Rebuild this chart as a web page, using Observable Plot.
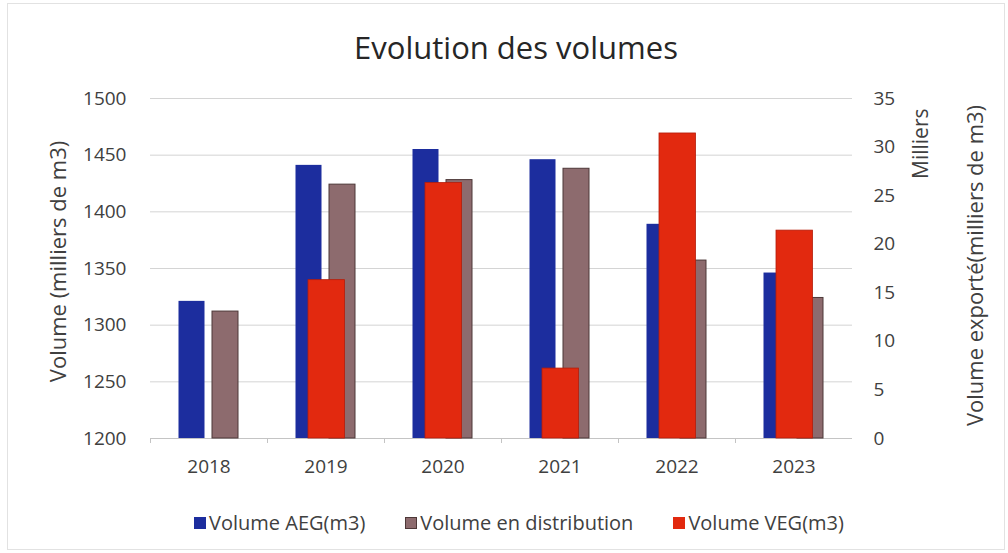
<!DOCTYPE html>
<html>
<head>
<meta charset="utf-8">
<script src="https://cdn.jsdelivr.net/npm/d3@7"></script>
<script src="https://cdn.jsdelivr.net/npm/@observablehq/plot@0.6"></script>
<style>
  html, body { margin: 0; padding: 0; background: #fff; }
  body { width: 1008px; height: 553px; overflow: hidden; font-family: "Open Sans", sans-serif; color: #404040; position: relative; }
  #frame { position: absolute; left: 7px; top: 3px; right: 3px; bottom: 3px; border: 1px solid #e2e2e2; pointer-events: none; }
  #title { height: 80px; box-sizing: border-box; padding-top: 29px; text-align: center; font-size: 31px; line-height: 36px; color: #262626; padding-left: 24px; }
  #chart svg { display: block; }
  #legend { height: 73px; box-sizing: border-box; padding-top: 12px; display: flex; justify-content: center; gap: 40px; font-size: 20px; line-height: 24px; padding-left: 30px; color: #404040; }
  .item { display: flex; align-items: center; gap: 3px; }
  .sw { width: 12px; height: 12px; display: inline-block; box-sizing: border-box; }
</style>
</head>
<body>
<div id="frame"></div>
<div id="title">Evolution des volumes</div>
<div id="chart"></div>
<div id="legend"></div>
<script>
// ---- data ----
const years = ["2018", "2019", "2020", "2021", "2022", "2023"];
const volumeAEG = [1321, 1441, 1455, 1446, 1389, 1346];          // milliers de m3 (left axis)
const volumeDistribution = [1312, 1424, 1428, 1438, 1357, 1324]; // milliers de m3 (left axis)
const volumeVEG = [null, 16.3, 26.3, 7.2, 31.4, 21.4];           // milliers (right axis)
const leftTicks = [1200, 1250, 1300, 1350, 1400, 1450, 1500];
const rightTicks = [0, 5, 10, 15, 20, 25, 30, 35];
const seriesNames = ["Volume AEG(m3)", "Volume en distribution", "Volume VEG(m3)"];
const seriesColors = ["#1c2d9e", "#8d6b6e", "#e2290f"];
const leftTitle = "Volume (milliers de m3)";
const rightTitle = "Volume exporté(milliers de m3)";
const rightUnit = "Milliers";

// ---- layout ----
const W = 1008, H = 400, mL = 150, mR = 156, mT = 18, mB = 42;
const bw = (W - mL - mR) / years.length;

const leftMin = leftTicks[0], leftMax = leftTicks[leftTicks.length - 1];
const rightMax = rightTicks[rightTicks.length - 1];
const toLeft = v => leftMin + v * (leftMax - leftMin) / rightMax;
const fromLeft = y => (y - leftMin) * rightMax / (leftMax - leftMin);

const rows = years.map((year, i) => ({year, aeg: volumeAEG[i], dist: volumeDistribution[i], veg: volumeVEG[i]}));

const chart = Plot.plot({
  width: W, height: H,
  marginLeft: mL, marginRight: mR, marginTop: mT, marginBottom: mB,
  style: {fontFamily: "Open Sans, sans-serif", fontSize: "19px", color: "#404040", background: "white"},
  x: {type: "band", domain: years, padding: 0},
  y: {domain: [leftMin, leftMax]},
  marks: [
    Plot.gridY(leftTicks, {stroke: "#d4d4d4", strokeOpacity: 1, strokeWidth: 1}),
    Plot.ruleY([leftMin], {stroke: "#c4c4c4", strokeWidth: 1}),
    Plot.axisX({tickSize: 5, tickFormat: () => "", dx: -bw / 2, stroke: "#c4c4c4", label: null}),
    Plot.axisX({tickSize: 0, tickPadding: 21, fontSize: 19, fill: "#404040", label: null}),
    Plot.axisY(leftTicks, {anchor: "left", tickSize: 0, tickPadding: 24, fontSize: 19, fill: "#404040",
      tickFormat: d => String(d), label: null}),
    Plot.axisY(rightTicks.map(toLeft), {anchor: "right", tickSize: 0, tickPadding: 21, fontSize: 19, fill: "#404040",
      tickFormat: d => String(Math.round(fromLeft(d))), label: null}),
    Plot.text([leftTitle], {frameAnchor: "left", textAnchor: "middle", dx: -92, dy: -7, rotate: -90, fontSize: 22, fill: "#404040"}),
    Plot.text([rightTitle], {frameAnchor: "right", textAnchor: "middle", dx: 123, dy: -3, rotate: -90, fontSize: 22, fill: "#404040"}),
    Plot.text([rightUnit], {frameAnchor: "top-right", dx: 61, dy: 10, rotate: -90, textAnchor: "end", fontSize: 21, fill: "#404040"}),
    Plot.barY(rows, {x: "year", y1: leftMin, y2: "aeg", fill: seriesColors[0], insetLeft: 28.5, insetRight: 62.5}),
    Plot.barY(rows, {x: "year", y1: leftMin, y2: "dist", fill: seriesColors[1], stroke: "#4d3838", strokeWidth: 1, insetLeft: 62, insetRight: 29}),
    Plot.barY(rows.filter(d => d.veg != null), {x: "year", y1: leftMin, y2: d => toLeft(d.veg), fill: seriesColors[2], stroke: "#b51d0a", strokeWidth: 0.8, insetLeft: 41, insetRight: 39.5})
  ]
});
document.getElementById("chart").appendChild(chart);

// legend
const legend = document.getElementById("legend");
seriesNames.forEach((name, i) => {
  const item = document.createElement("div");
  item.className = "item";
  const sw = document.createElement("span");
  sw.className = "sw";
  sw.style.background = seriesColors[i];
  if (i === 1) sw.style.border = "1px solid #4d3838";
  const t = document.createElement("span");
  t.textContent = name;
  item.appendChild(sw); item.appendChild(t);
  legend.appendChild(item);
});
</script>
</body>
</html>
